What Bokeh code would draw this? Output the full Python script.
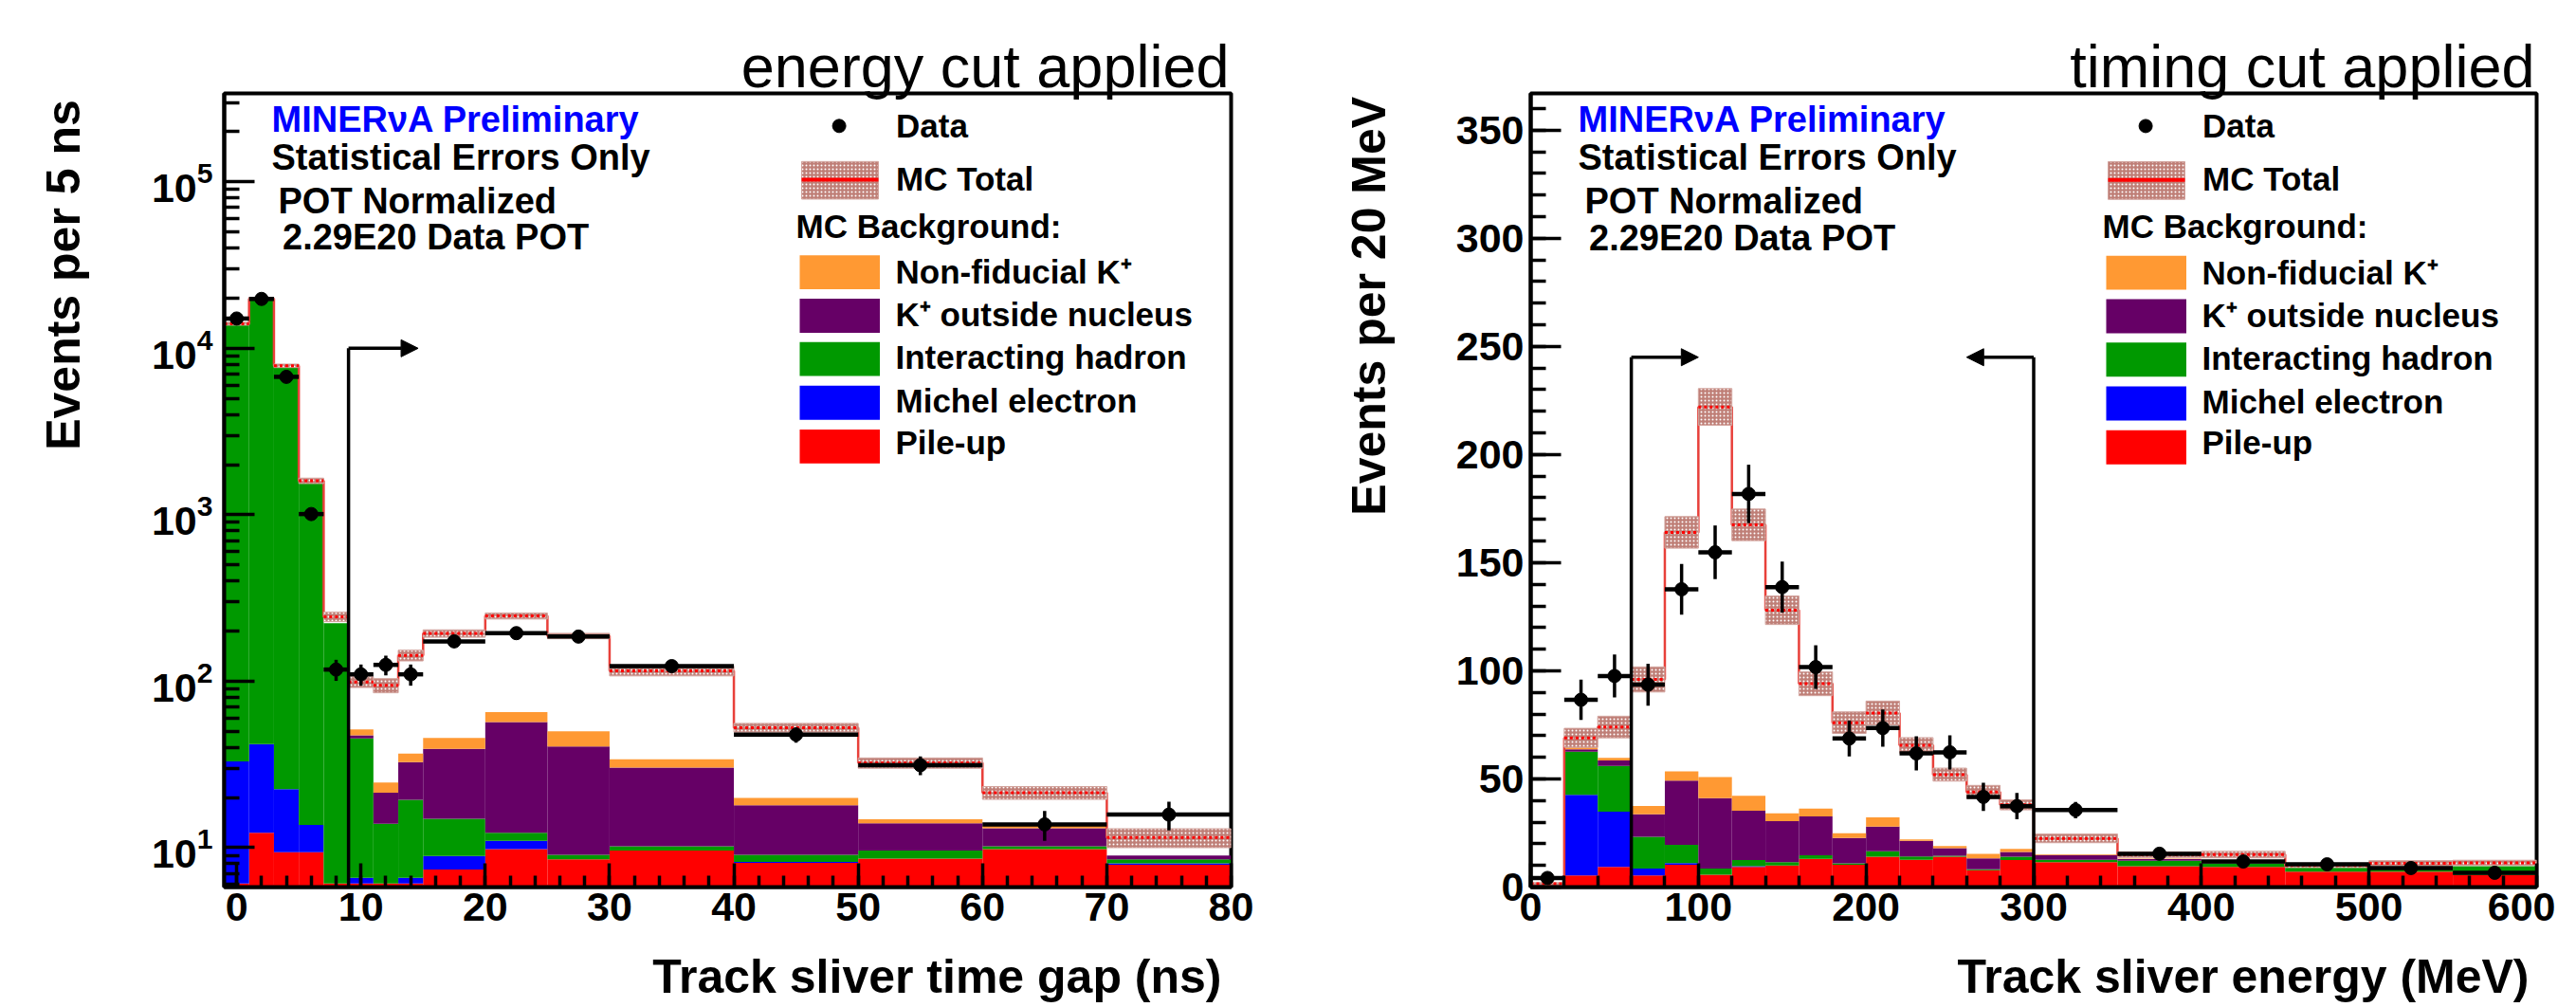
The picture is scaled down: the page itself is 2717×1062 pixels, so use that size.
import numpy as np
from math import log10, pi
from bokeh.plotting import figure
from bokeh.layouts import row, column
from bokeh.models import (Range1d, FixedTicker, LogTickFormatter, Label, Arrow, NormalHead)
from bokeh.embed import file_html
from bokeh.resources import INLINE

# ---------------- left panel: energy cut applied (events per 5 ns) ----------------
gap_edges = [-1, 1, 3, 5, 7, 9, 11, 13, 15, 20, 25, 30, 40, 50, 60, 70, 80]
gap_pileup = [6.1, 12.3, 9.4, 9.4, 6.1, 6.1, 6.1, 6.1, 7.4, 9.8, 8.5, 9.6, 8.1, 8.6, 9.8, 7.9]
gap_michel = [26.9, 29.6, 13.1, 4.3, 0.0, 0.5, 0.0, 0.5, 1.5, 1.2, 0.0, 0.0, 0.1, 0.0, 0.0, 0.15]
gap_hadron = [13970, 19760, 7810, 1580, 217, 38.8, 7.8, 12.8, 6.0, 1.3, 0.55, 0.6, 0.85, 1.0, 0.4, 0.47]
gap_kout = [0, 0, 0, 0, 0, 1.9, 7.5, 13.3, 24.4, 44.6, 31.5, 20.1, 8.95, 4.4, 2.9, 0.45]
gap_nonfid = [0, 0, 0, 0, 0, 4.1, 3.2, 4.1, 6.4, 8.4, 9.4, 3.7, 1.9, 0.8, 0.4, 0.0]
gap_mc = [14050, 19850, 7850, 1600, 244, 99, 94.4, 143, 193.6, 246.7, 187, 115.3, 52.6, 32.3, 21.4, 11.5]
gap_mc_err = [280, 330, 190, 60, 16, 7.3, 9.2, 10.6, 9.9, 10.3, 7.0, 7.7, 3.2, 2.3, 1.9, 1.5]
gap_data = [15100, 19800, 6740, 1010, 117.5, 110, 125.4, 110, 173.6, 194.5, 185.4, 123.2, 47.8, 31.3, 13.8, 15.8]
gap_data_err = [200, 220, 130, 50, 17, 16, 17, 16, 13, 14, 14, 8, 5, 4, 2.8, 3.1]
gap_cut = [9]
gap_arrow_end = [14.6]
gap_arrow_y = 1e4
gap_xticks = [0, 10, 20, 30, 40, 50, 60, 70, 80]
gap_xminor = list(range(0, 81, 2))
gap_yticks = [10, 100, 1000, 10000, 100000]
gap_yminor = [m * 10 ** e for e in range(0, 6) for m in range(2, 10)]

# ---------------- right panel: timing cut applied (events per 20 MeV) ----------------
en_edges = [0, 20, 40, 60, 80, 100, 120, 140, 160, 180, 200, 220, 240, 260, 280, 300, 350, 400, 450, 500, 550, 600]
en_pileup = [1.5, 5.4, 9.3, 5.4, 10.3, 5.7, 9.3, 10.0, 13.0, 10.3, 14.0, 12.6, 14.0, 7.8, 12.5, 11.5, 9.6, 9.3, 7.1, 7.1, 5.6]
en_michel = [0, 37.2, 25.6, 3.2, 0.8, 0, 0.3, 0, 0, 0, 0, 0, 0, 0, 0, 0, 0.1, 0, 0, 0, 0]
en_hadron = [0, 20.0, 21.1, 14.6, 8.4, 2.9, 2.9, 1.5, 1.7, 0.7, 2.6, 1.5, 0.5, 0.4, 1.5, 1.1, 2.5, 1.7, 2.2, 1.0, 4.0]
en_kout = [0, 1.1, 2.5, 10.5, 29.7, 32.5, 22.8, 19.0, 18.0, 11.7, 11.3, 7.3, 3.5, 5.1, 2.2, 2.2, 0.7, 0.2, 0, 0, 0]
en_nonfid = [0, 0.9, 1.2, 3.8, 4.3, 9.8, 6.9, 3.6, 3.6, 2.2, 4.3, 0.6, 1.0, 2.1, 1.4, 0.3, 0.2, 0.1, 0, 0, 0]
en_mc = [1.5, 69, 74, 96, 164, 222, 167.5, 128, 94, 76, 80.5, 65.5, 52, 44, 38, 22.5, 15, 15, 10, 11, 11.2]
en_mc_err = [0.5, 4.4, 5.0, 5.8, 7.3, 8.5, 7.3, 6.6, 5.5, 5.0, 5.5, 3.6, 3.0, 3.0, 2.3, 2.0, 1.3, 1.5, 1.0, 1.2, 1.2]
en_data = [4.2, 86.6, 97.6, 93.6, 137.7, 154.8, 181.8, 138.7, 101.7, 68.7, 73.5, 61.8, 62.3, 41.7, 37.4, 35.6, 15.4, 11.8, 10.5, 8.8, 6.6]
en_data_err = [2.0, 9.3, 9.9, 9.7, 11.7, 12.4, 13.5, 11.8, 10.1, 8.3, 8.6, 7.9, 7.9, 6.5, 6.1, 3.8, 2.5, 2.2, 2.0, 1.9, 1.6]
en_cut = [60, 300]
en_arrow_end = [100, 260]
en_arrow_y = 245
en_xticks = [0, 100, 200, 300, 400, 500, 600]
en_xminor = list(range(0, 601, 20))
en_yticks = [0, 50, 100, 150, 200, 250, 300, 350]
en_yminor = list(range(0, 361, 10))

series_names = ["Pile-up", "Michel electron", "Interacting hadron", "K\u207a outside nucleus", "Non-fiducial K\u207a"]
series_colors = ["#ff0000", "#0000ff", "#009900", "#660066", "#ff9933"]

FONT = "Liberation Sans"
BAND_FILL = "#bf7f77"
BASE_SHIFT = 0.42   # rendered baseline sits ~0.42 em below a Label's anchor

ROW_H = 1000    # row that holds the two histogram figures (page starts at 0,0)
XLAB_H = 62     # strip below it with the x-axis titles


class Frame:
    def __init__(self, x0, x1, y0, y1, w, h, log):
        self.x0, self.x1, self.y0, self.y1, self.w, self.h, self.log = x0, x1, y0, y1, w, h, log

    def x(self, px):
        return self.x0 + px / self.w * (self.x1 - self.x0)

    def y(self, py):
        if self.log:
            a, b = log10(self.y1), log10(self.y0)
            return 10 ** (a - py / self.h * (a - b))
        return self.y1 - py / self.h * (self.y1 - self.y0)


def text(p, fr, s, px, py, size, color="black", bold=True, align="left"):
    p.add_layout(Label(x=fr.x(px), y=fr.y(py - BASE_SHIFT * size), text=s, text_font=FONT,
                       text_font_size=f"{size}px", text_font_style="bold" if bold else "normal",
                       text_color=color, text_align=align, text_baseline="alphabetic"))


def band(p, left, right, bottom, top):
    p.quad(left=left, right=right, bottom=bottom, top=top, fill_color=BAND_FILL,
           hatch_pattern="dot", hatch_color="white", hatch_scale=4, hatch_weight=1.4,
           line_color="#d2a39d", line_width=1)


def text_strip(w, h, items):
    """A blank figure (frame = whole canvas, pixel units) that carries axis titles."""
    f = figure(width=w, height=h, x_range=Range1d(0, w), y_range=Range1d(0, h),
               output_backend="svg", toolbar_location=None, min_border=0,
               x_axis_location=None, y_axis_location=None, title=None)
    f.outline_line_color = None
    f.grid.visible = False
    f.background_fill_color = "white"
    f.border_fill_color = "white"
    for s, x, y, angle in items:
        f.add_layout(Label(x=x, y=y, text=s, text_font=FONT, text_font_size="50px",
                           text_font_style="bold", text_color="black", text_align="right",
                           text_baseline="alphabetic", angle=angle))
    return f


def panel(edges, comps, mc, mc_err, data, data_err, cuts, arrow_ends, arrow_y,
          xr, yr, log, fw, fh, width, borders, xticks, xminor, yticks, yminor,
          title, ytick_sd):
    bl, br, bt, bb = borders
    p = figure(width=width, height=ROW_H, x_range=Range1d(*xr), y_range=Range1d(*yr),
               y_axis_type="log" if log else "linear", output_backend="svg",
               toolbar_location=None, min_border_left=bl, min_border_right=br,
               min_border_top=bt, min_border_bottom=bb)
    p.grid.visible = False
    p.background_fill_color = "white"
    p.border_fill_color = "white"
    p.outline_line_color = "black"
    p.outline_line_width = 4
    fr = Frame(xr[0], xr[1], yr[0], yr[1], fw, fh, log)

    e = np.array(edges, dtype=float)
    lo, hi = e[:-1], e[1:]
    cen = 0.5 * (lo + hi)

    # stacked backgrounds
    arr = np.array(comps, dtype=float)
    cum = np.cumsum(arr, axis=0)
    floor = 1.0 if log else 0.0
    for i, col in enumerate(series_colors):
        bot = np.full(len(lo), floor) if i == 0 else cum[i - 1]
        top = cum[i]
        p.quad(left=lo, right=hi, bottom=bot, top=np.maximum(top, bot),
               fill_color=col, line_color=None)

    # MC total with error band
    mcv = np.array(mc, dtype=float)
    mce = np.array(mc_err, dtype=float)
    p.step(x=e, y=np.append(mcv, mcv[-1]), mode="after", line_color="#e8403a", line_width=2.5)
    band(p, lo, hi, mcv - mce, mcv + mce)
    p.segment(x0=lo, x1=hi, y0=mcv, y1=mcv, line_color="red", line_width=3, line_dash="3 3")

    # data
    dv = np.array(data, dtype=float)
    de = np.array(data_err, dtype=float)
    p.segment(x0=lo, x1=hi, y0=dv, y1=dv, line_color="black", line_width=4.5)
    p.segment(x0=cen, x1=cen, y0=dv - de, y1=dv + de, line_color="black", line_width=3.5)
    p.scatter(x=cen, y=dv, size=14, marker="circle", fill_color="black", line_color="black")

    # cuts
    for c, a_end in zip(cuts, arrow_ends):
        p.segment(x0=[c], x1=[c], y0=[yr[0]], y1=[arrow_y], line_color="black", line_width=3.5)
        p.add_layout(Arrow(x_start=c, y_start=arrow_y, x_end=a_end, y_end=arrow_y,
                           line_width=3.5, line_color="black",
                           end=NormalHead(size=18, fill_color="black", line_color="black")))

    # axes
    p.xaxis.ticker = FixedTicker(ticks=xticks, minor_ticks=xminor)
    p.yaxis.ticker = FixedTicker(ticks=yticks, minor_ticks=yminor)
    if log:
        p.yaxis.formatter = LogTickFormatter(min_exponent=1)
    for ax in (p.xaxis[0], p.yaxis[0]):
        ax.axis_line_width = 4
        ax.major_tick_line_width = 3.5
        ax.minor_tick_line_width = 3.5
        ax.major_tick_out = 0
        ax.minor_tick_out = 0
        ax.major_label_text_font = FONT
        ax.major_label_text_font_style = "bold"
        ax.major_label_text_font_size = "43px"
        ax.major_label_text_color = "black"
    p.xaxis.major_tick_in = 25
    p.xaxis.minor_tick_in = 12
    p.yaxis.major_tick_in = 32
    p.yaxis.minor_tick_in = 16
    p.xaxis.major_label_standoff = 6
    p.yaxis.major_label_standoff = ytick_sd

    # title above the frame (right aligned)
    p.title.text = title
    p.title.align = "right"
    p.title.offset = 2
    p.title.text_font = FONT
    p.title.text_font_size = "63px"
    p.title.text_font_style = "normal"
    p.title.text_color = "black"
    p.title.vertical_align = "bottom"
    try:
        p.title.standoff = -12
    except Exception:
        p.title.standoff = 0

    # info box
    text(p, fr, "MINER\u03bdA Preliminary", 50, 44, 38, color="#0000ff")
    text(p, fr, "Statistical Errors Only", 50, 84, 38)
    text(p, fr, "POT Normalized", 57, 130, 38)
    text(p, fr, "2.29E20 Data POT", 61.5, 168.6, 38)

    # legend
    p.scatter(x=[fr.x(648.6)], y=[fr.y(34.5)], size=14, marker="circle", color="black")
    text(p, fr, "Data", 708.5, 48.6, 35)
    band(p, [fr.x(609)], [fr.x(690)], [fr.y(112)], [fr.y(72.2)])
    p.segment(x0=[fr.x(609)], x1=[fr.x(690)], y0=[fr.y(91.5)], y1=[fr.y(91.5)],
              line_color="red", line_width=4)
    text(p, fr, "MC Total", 708.5, 105, 35)
    text(p, fr, "MC Background:", 603, 155.3, 35)
    box_tops = [171.6, 217.6, 263.5, 309.8, 356.2]
    base_lines = [204, 249, 294, 340, 384]
    for k in range(5):
        idx = 4 - k
        p.quad(left=[fr.x(607)], right=[fr.x(691.5)], top=[fr.y(box_tops[k])],
               bottom=[fr.y(box_tops[k] + 36)], fill_color=series_colors[idx], line_color=None)
        text(p, fr, series_names[idx], 708, base_lines[k], 35)
    return p


# frames: left (236..1298, 94..935), right (1614..2675, 98..937) in page pixels
p1 = panel(gap_edges, [gap_pileup, gap_michel, gap_hadron, gap_kout, gap_nonfid],
           gap_mc, gap_mc_err, gap_data, gap_data_err, gap_cut, gap_arrow_end, gap_arrow_y,
           (-1, 80), (5.8, 3.4e5), True, 1062, 841, 1288, (124, 102, 94, 65),
           gap_xticks, gap_xminor, gap_yticks, gap_yminor, "energy cut applied", 12)

p2 = panel(en_edges, [en_pileup, en_michel, en_hadron, en_kout, en_nonfid],
           en_mc, en_mc_err, en_data, en_data_err, en_cut, en_arrow_end, en_arrow_y,
           (0, 600), (0, 367), False, 1061, 839, 1195, (114, 20, 98, 63),
           en_xticks, en_xminor, en_yticks, en_yminor, "timing cut applied", 7)

YSHIFT = BASE_SHIFT * 50
# y-axis titles (rotated, ending at the top of each frame); rotated text renders
# below its anchor, so the anchors are raised by an empirically measured amount
yl1 = text_strip(112, ROW_H, [("Events per 5 ns", 87 - YSHIFT, ROW_H - 93 + 85, pi / 2)])
yl2 = text_strip(100, ROW_H, [("Events per 20 MeV", 64 - YSHIFT, ROW_H - 98 + 94, pi / 2)])
# x-axis titles (right aligned near the right end of each frame), baseline at page y 1050
xl = text_strip(2695, XLAB_H, [("Track sliver time gap (ns)", 1288, 1062 - 1050 + YSHIFT, 0.0),
                               ("Track sliver energy (MeV)", 2667, 1062 - 1050 + YSHIFT, 0.0)])

layout = column(row(yl1, p1, yl2, p2), xl)
open("out.html", "w").write(file_html(layout, INLINE))
